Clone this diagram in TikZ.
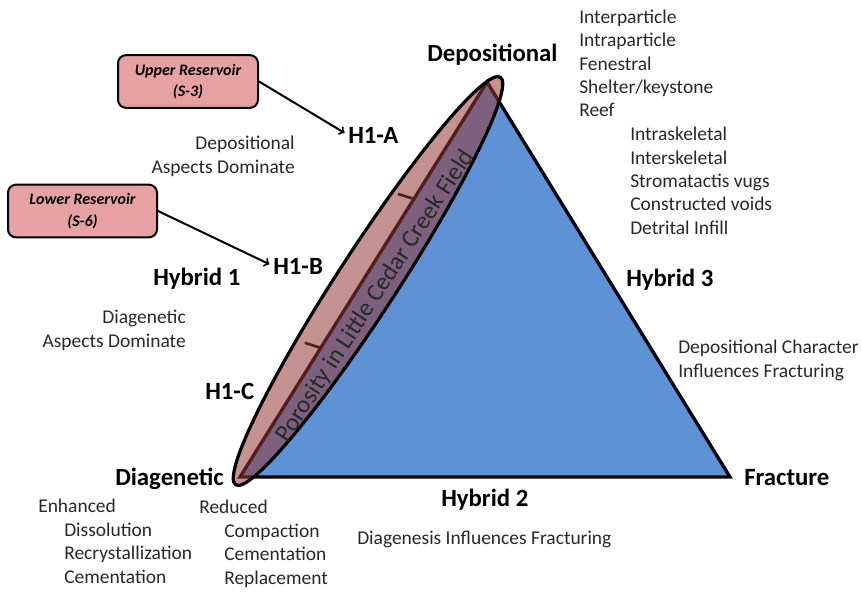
\documentclass[tikz,border=0pt]{standalone}
\usepackage{fontspec}
\setmainfont{Carlito}
\usetikzlibrary{calc}
\definecolor{triblue}{RGB}{95,146,213}
\definecolor{boxpink}{RGB}{230,162,162}
\definecolor{ellred}{RGB}{150,55,55}
\definecolor{txtgray}{RGB}{40,40,40}
\begin{document}
\begin{tikzpicture}[x=0.75pt,y=-0.75pt,
  lbl/.style={font=\fontsize{18.6}{22}\selectfont\bfseries,inner sep=0pt},
  txt/.style={font=\fontsize{14.6}{17.5}\selectfont,text=txtgray,inner sep=0pt},
  resbox/.style={draw,line width=1.5pt,rounded corners=6pt,fill=boxpink,align=center,font=\fontsize{12}{16.3}\selectfont\bfseries\itshape,minimum height=39.5pt},
  arr/.style={line width=1.5pt,->,shorten >=3pt}]
\useasboundingbox (0,0) rectangle (861,592);
\coordinate (a) at (240,477);
\coordinate (b) at (487,82);
\coordinate (c) at (730,477);
\fill[triblue] (a)--(b)--(c)--cycle;
\draw[line width=2.5pt] (a)--(b)--(c)--cycle;
\draw[line width=2pt] ($(a)!0.327!(b)$)--++(-16,-5);
\draw[line width=2pt] ($(a)!0.704!(b)$)--++(-16,-5);
\draw[line width=2.4pt,fill=ellred,fill opacity=0.55,rotate around={57:(368,281)}] (368,281) ellipse [x radius=243,y radius=30];
\node[rotate=57,anchor=base,inner sep=0pt,font=\fontsize{18.6}{20}\selectfont,text=txtgray] (por) at (381,300) {Porosity in Little Cedar Creek Field};
\node[lbl,anchor=base west] (ldep) at (427,62) {Depositional};
\node[lbl,anchor=base west] (ldia) at (115,485) {Diagenetic};
\node[lbl,anchor=base west] (lfra) at (744,485) {Fracture};
\node[lbl,anchor=base west] (hy1) at (153,285) {Hybrid 1};
\node[lbl,anchor=base west] (hy2) at (441,506) {Hybrid 2};
\node[lbl,anchor=base west] (hy3) at (626,286) {Hybrid 3};
\node[lbl,anchor=base west] (h1a) at (348,143) {H1-A};
\node[lbl,anchor=base west] (h1b) at (273,274) {H1-B};
\node[lbl,anchor=base west] (h1c) at (205,399) {H1-C};
\node[txt,align=left,anchor=base west] (pore1) at (579,117) {Interparticle\\Intraparticle\\Fenestral\\Shelter/keystone\\Reef};
\node[txt,align=left,anchor=base west] (pore2) at (630,234) {Intraskeletal\\Interskeletal\\Stromatactis vugs\\Constructed voids\\Detrital Infill};
\node[txt,align=right,anchor=base east] (depdom) at (295,173) {Depositional\\Aspects Dominate};
\node[txt,align=right,anchor=base east] (diadom) at (186,347) {Diagenetic\\Aspects Dominate};
\node[txt,align=left,anchor=base west] (depfrac) at (678,377) {Depositional Character\\Influences Fracturing};
\node[txt,anchor=base west] (diafrac) at (357,544) {Diagenesis Influences Fracturing};
\node[txt,anchor=base west] (enh) at (38,512) {Enhanced};
\node[txt,align=left,anchor=base west] (enhl) at (64,583) {Dissolution\\Recrystallization\\Cementation};
\node[txt,anchor=base west] (redu) at (199,513) {Reduced};
\node[txt,align=left,anchor=base west] (redul) at (224,584) {Compaction\\Cementation\\Replacement};
\node[resbox,minimum width=105pt] (up) at (188,81.5) {Upper Reservoir\\(S-3)};
\node[resbox,minimum width=111.75pt] (low) at (82.5,211) {Lower Reservoir\\(S-6)};
\draw[arr] (up.east)--(h1a.west);
\draw[arr] (low.east)--(h1b.west);
\end{tikzpicture}
\end{document}
